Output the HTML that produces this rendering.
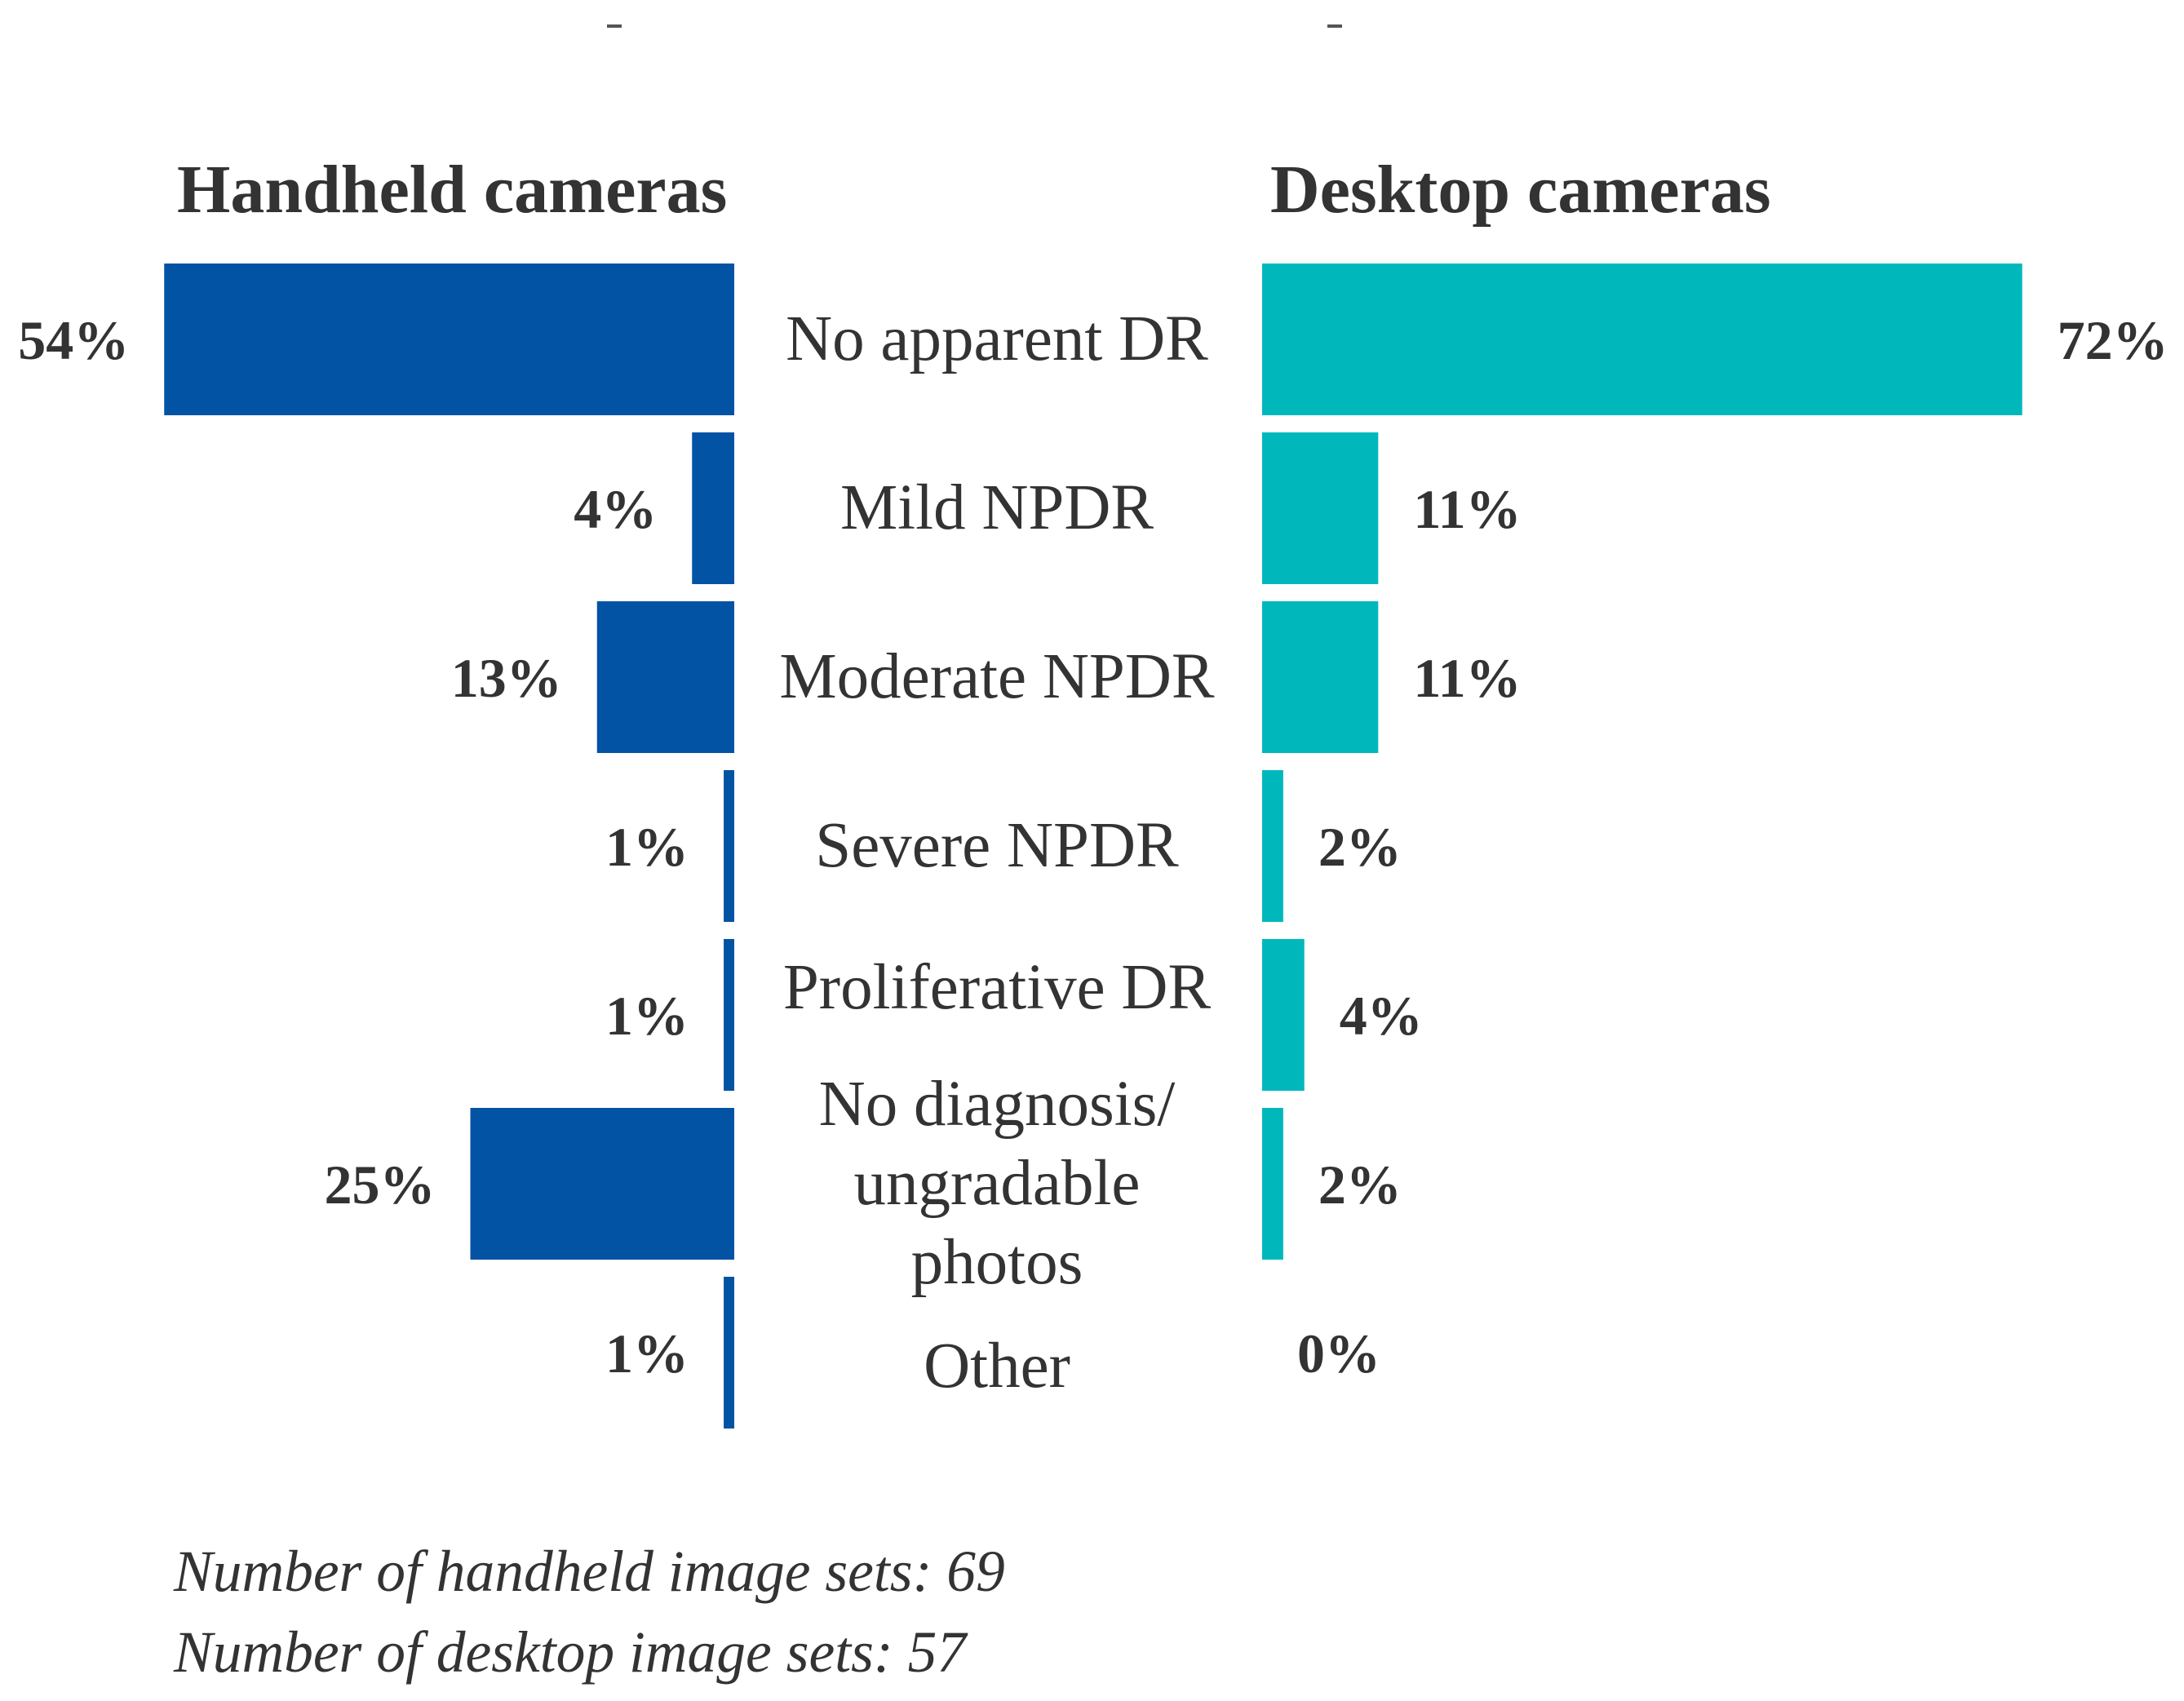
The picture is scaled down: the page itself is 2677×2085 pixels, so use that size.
<!DOCTYPE html>
<html><head><meta charset="utf-8"><style>
html,body{margin:0;padding:0;background:#fff;}
svg{display:block;}
</style></head><body>
<svg id="chart" width="2677" height="2085" viewBox="0 0 2677 2085" xmlns="http://www.w3.org/2000/svg">
<rect x="744" y="30" width="18" height="4" fill="#555"/>
<rect x="1627" y="30" width="18" height="4" fill="#555"/>
<text x="217" y="260" font-family="Liberation Serif, serif" font-weight="bold" font-size="84" fill="#333">Handheld cameras</text>
<text x="1557" y="260" font-family="Liberation Serif, serif" font-weight="bold" font-size="84" fill="#333">Desktop cameras</text>
<g id="bars"></g>
<text x="213" y="1950" font-family="Liberation Serif, serif" font-style="italic" font-size="71.5" fill="#333">Number of handheld image sets: 69</text>
<text x="213" y="2049" font-family="Liberation Serif, serif" font-style="italic" font-size="71.5" fill="#333">Number of desktop image sets: 57</text>
</svg>
<script>
const categories = ["No apparent DR","Mild NPDR","Moderate NPDR","Severe NPDR","Proliferative DR","No diagnosis/|ungradable|photos","Other"];
const handheldValues = [54,4,13,1,1,25,1];
const desktopValues = [72,11,11,2,4,2,0];

const NS = "http://www.w3.org/2000/svg";
const g = document.getElementById("bars");
const leftAxis = 900, rightAxis = 1547, pxPer = 12.94;
const rowTop = 323, rowPitch = 207, barH = 186;
function xLeft(v){ return leftAxis - v*pxPer; }
function xRight(v){ return rightAxis + v*pxPer; }
function yRow(i){ return rowTop + i*rowPitch; }
function mk(tag, attrs){ const e=document.createElementNS(NS,tag); for(const k in attrs) e.setAttribute(k,attrs[k]); g.appendChild(e); return e; }
const labelOffsets = [0,0,0,0,-33,0,17];
categories.forEach((c,i)=>{
  const y = yRow(i), cy = y + barH/2;
  const hv = handheldValues[i], dv = desktopValues[i];
  const hb = mk("rect",{x:xLeft(hv), y:y, width:leftAxis-xLeft(hv), height:barH, fill:"#0353a4"});
  
  
  const db = mk("rect",{x:rightAxis, y:y, width:xRight(dv)-rightAxis, height:barH, fill:"#00b8bc"});
  
  
  const hl = mk("text",{x:xLeft(hv)-43, y:cy+24, "text-anchor":"end", "font-family":"Liberation Serif, serif", "font-weight":"bold", "font-size":"68", fill:"#333"});
  hl.textContent = hv + "%";
  
  
  const dl = mk("text",{x:xRight(dv)+43, y:cy+24, "font-family":"Liberation Serif, serif", "font-weight":"bold", "font-size":"68", fill:"#333"});
  dl.textContent = dv + "%";
  
  
  const lines = c.split("|");
  lines.forEach((ln,j)=>{
    const ly = cy + labelOffsets[i] + (j-(lines.length-1)/2)*97 + 25;
    const t = mk("text",{x:1222, y:ly, "text-anchor":"middle", "font-family":"Liberation Serif, serif", "font-size":"79", fill:"#333"});
    t.textContent = ln;
    
    
  });
});
</script>
</body></html>
